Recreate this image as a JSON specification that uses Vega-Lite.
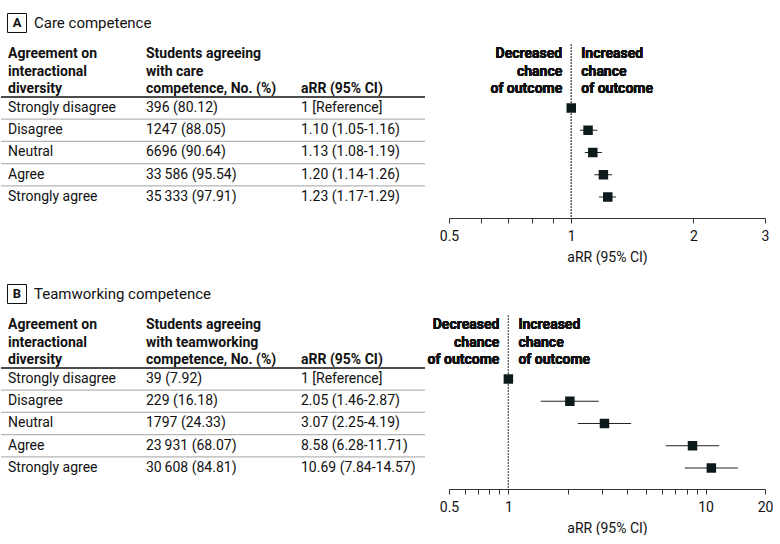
{
  "$schema": "https://vega.github.io/schema/vega-lite/v6.json",
  "padding": 0,
  "background": "white",
  "config": {
    "view": {"stroke": null},
    "font": "Roboto",
    "text": {"font": "Roboto", "fontSize": 14, "color": "#111"},
    "axis": {
      "labelFont": "Roboto", "titleFont": "Roboto",
      "labelFontSize": 14, "titleFontSize": 14, "titleFontWeight": "normal",
      "labelColor": "#111", "titleColor": "#111",
      "domainColor": "#333", "tickColor": "#333", "tickSize": 5,
      "grid": false, "labelPadding": 6, "titlePadding": 7, "labelFlush": false
    }
  },
  "datasets": {
    "rowsA": [
      {"row": 1, "level": "Strongly disagree", "n": "396 (80.12)", "arr": "1 [Reference]", "est": 1, "lo": null, "hi": null},
      {"row": 2, "level": "Disagree", "n": "1247 (88.05)", "arr": "1.10 (1.05-1.16)", "est": 1.10, "lo": 1.05, "hi": 1.16},
      {"row": 3, "level": "Neutral", "n": "6696 (90.64)", "arr": "1.13 (1.08-1.19)", "est": 1.13, "lo": 1.08, "hi": 1.19},
      {"row": 4, "level": "Agree", "n": "33\u2009586 (95.54)", "arr": "1.20 (1.14-1.26)", "est": 1.20, "lo": 1.14, "hi": 1.26},
      {"row": 5, "level": "Strongly agree", "n": "35\u2009333 (97.91)", "arr": "1.23 (1.17-1.29)", "est": 1.23, "lo": 1.17, "hi": 1.29}
    ],
    "rowsB": [
      {"row": 1, "level": "Strongly disagree", "n": "39 (7.92)", "arr": "1 [Reference]", "est": 1, "lo": null, "hi": null},
      {"row": 2, "level": "Disagree", "n": "229 (16.18)", "arr": "2.05 (1.46-2.87)", "est": 2.05, "lo": 1.46, "hi": 2.87},
      {"row": 3, "level": "Neutral", "n": "1797 (24.33)", "arr": "3.07 (2.25-4.19)", "est": 3.07, "lo": 2.25, "hi": 4.19},
      {"row": 4, "level": "Agree", "n": "23\u2009931 (68.07)", "arr": "8.58 (6.28-11.71)", "est": 8.58, "lo": 6.28, "hi": 11.71},
      {"row": 5, "level": "Strongly agree", "n": "30\u2009608 (84.81)", "arr": "10.69 (7.84-14.57)", "est": 10.69, "lo": 7.84, "hi": 14.57}
    ],
    "hdrA": [
      {"col": 1, "text": "Agreement on\ninteractional\ndiversity"},
      {"col": 4, "text": "Students agreeing\nwith care\ncompetence, No. (%)"}
    ],
    "hdrB": [
      {"col": 1, "text": "Agreement on\ninteractional\ndiversity"},
      {"col": 4, "text": "Students agreeing\nwith teamworking\ncompetence, No. (%)"}
    ],
    "hdr3": [
      {"col": 5, "text": "aRR (95% CI)"}
    ],
    "lines": [
      {"r": 0.506, "kind": "header"},
      {"r": 1.5, "kind": "sep"},
      {"r": 2.5, "kind": "sep"},
      {"r": 3.5, "kind": "sep"},
      {"r": 4.5, "kind": "sep"}
    ],
    "titleA": [{"letter": "A", "title": "Care competence"}],
    "titleB": [{"letter": "B", "title": "Teamworking competence"}]
  },
  "spacing": 7,
  "vconcat": [
    {
      "bounds": "flush",
      "spacing": 0,
      "hconcat": [
        {
          "width": 448, "height": 218,
          "layer": [
            {
              "data": {"name": "lines"},
              "transform": [{"filter": "datum.kind === 'sep'"}],
              "mark": {"type": "rule", "color": "#b5b5b5", "strokeWidth": 1.2},
              "encoding": {
                "x": {"datum": 0, "type": "quantitative", "scale": {"domain": [0, 1, 2, 3, 4, 5, 6], "range": [0, 7, 16, 33, 145, 300, 424]}, "axis": null},
                "x2": {"datum": 6},
                "y": {"field": "r", "type": "quantitative", "scale": {"domain": [-3.854, 5.944], "reverse": true, "nice": false, "zero": false}, "axis": null}
              }
            },
            {
              "data": {"name": "lines"},
              "transform": [{"filter": "datum.kind === 'header'"}],
              "mark": {"type": "rule", "color": "#111", "strokeWidth": 1.6},
              "encoding": {
                "x": {"datum": 0, "type": "quantitative"},
                "x2": {"datum": 6},
                "y": {"field": "r", "type": "quantitative"}
              }
            },
            {
              "data": {"name": "titleA"},
              "mark": {"type": "point", "shape": "square", "filled": false, "size": 361, "color": "#111", "strokeWidth": 1, "opacity": 1},
              "encoding": {
                "x": {"datum": 2, "type": "quantitative"},
                "y": {"datum": -2.82, "type": "quantitative"}
              }
            },
            {
              "data": {"name": "titleA"},
              "mark": {"type": "text", "align": "center", "baseline": "middle", "fontWeight": "bold", "fontSize": 13},
              "encoding": {
                "x": {"datum": 2, "type": "quantitative"},
                "y": {"datum": -2.82, "type": "quantitative"},
                "text": {"field": "letter"}
              }
            },
            {
              "data": {"name": "titleA"},
              "mark": {"type": "text", "align": "left", "baseline": "middle", "fontSize": 15},
              "encoding": {
                "x": {"datum": 3, "type": "quantitative"},
                "y": {"datum": -2.82, "type": "quantitative"},
                "text": {"field": "title"}
              }
            },
            {
              "data": {"name": "hdrA"},
              "mark": {"type": "text", "align": "left", "baseline": "middle", "fontWeight": "bold", "lineBreak": "\n", "lineHeight": 17.2},
              "encoding": {
                "x": {"field": "col", "type": "quantitative"},
                "y": {"datum": -1.41, "type": "quantitative"},
                "text": {"field": "text"}
              }
            },
            {
              "data": {"name": "hdr3"},
              "mark": {"type": "text", "align": "left", "baseline": "middle", "fontWeight": "bold"},
              "encoding": {
                "x": {"field": "col", "type": "quantitative"},
                "y": {"datum": 0.136, "type": "quantitative"},
                "text": {"field": "text"}
              }
            },
            {
              "data": {"name": "rowsA"},
              "mark": {"type": "text", "align": "left", "baseline": "middle"},
              "encoding": {"x": {"datum": 1, "type": "quantitative"}, "y": {"field": "row", "type": "quantitative"}, "text": {"field": "level"}}
            },
            {
              "data": {"name": "rowsA"},
              "mark": {"type": "text", "align": "left", "baseline": "middle"},
              "encoding": {"x": {"datum": 4, "type": "quantitative"}, "y": {"field": "row", "type": "quantitative"}, "text": {"field": "n"}}
            },
            {
              "data": {"name": "rowsA"},
              "mark": {"type": "text", "align": "left", "baseline": "middle"},
              "encoding": {"x": {"datum": 5, "type": "quantitative"}, "y": {"field": "row", "type": "quantitative"}, "text": {"field": "arr"}}
            }
          ]
        },
        {
          "width": 316, "height": 218,
          "data": {"name": "rowsA"},
          "layer": [
            {
              "mark": {"type": "rule", "color": "#555", "strokeDash": [1, 2], "strokeWidth": 1},
              "encoding": {
                "x": {"datum": 1, "type": "quantitative", "scale": {"type": "log", "domain": [0.5, 3], "nice": false},
                  "axis": {"title": "aRR (95% CI)", "values": [0.5, 0.6, 0.7, 0.8, 0.9, 1, 2, 3], "labelExpr": "indexof([0.5, 1, 2, 3], datum.value) >= 0 ? format(datum.value, '~g') : ''"}},
                "y": {"datum": -1.85, "type": "quantitative", "scale": {"domain": [-3.854, 5.944], "reverse": true, "nice": false, "zero": false}, "axis": null},
                "y2": {"datum": 5.944}
              }
            },
            {
              "mark": {"type": "text", "align": "right", "baseline": "middle", "fontWeight": "bold", "lineBreak": "\n", "lineHeight": 17.2, "dx": -9, "text": "Decreased\nchance\nof outcome"},
              "encoding": {"x": {"datum": 1, "type": "quantitative"}, "y": {"datum": -1.41, "type": "quantitative"}}
            },
            {
              "mark": {"type": "text", "align": "left", "baseline": "middle", "fontWeight": "bold", "lineBreak": "\n", "lineHeight": 17.2, "dx": 10, "text": "Increased\nchance\nof outcome"},
              "encoding": {"x": {"datum": 1, "type": "quantitative"}, "y": {"datum": -1.41, "type": "quantitative"}}
            },
            {
              "mark": {"type": "rule", "color": "#222", "strokeWidth": 1},
              "encoding": {"x": {"field": "lo", "type": "quantitative"}, "x2": {"field": "hi"}, "y": {"field": "row", "type": "quantitative"}}
            },
            {
              "mark": {"type": "point", "shape": "square", "filled": true, "size": 90, "color": "#0d1a1c", "opacity": 1},
              "encoding": {"x": {"field": "est", "type": "quantitative"}, "y": {"field": "row", "type": "quantitative"}}
            }
          ]
        }
      ]
    },
    {
      "bounds": "flush",
      "spacing": 0,
      "hconcat": [
        {
          "width": 448, "height": 218,
          "layer": [
            {
              "data": {"name": "lines"},
              "transform": [{"filter": "datum.kind === 'sep'"}],
              "mark": {"type": "rule", "color": "#b5b5b5", "strokeWidth": 1.2},
              "encoding": {
                "x": {"datum": 0, "type": "quantitative", "scale": {"domain": [0, 1, 2, 3, 4, 5, 6], "range": [0, 7, 16, 33, 145, 300, 424]}, "axis": null},
                "x2": {"datum": 6},
                "y": {"field": "r", "type": "quantitative", "scale": {"domain": [-3.854, 5.944], "reverse": true, "nice": false, "zero": false}, "axis": null}
              }
            },
            {
              "data": {"name": "lines"},
              "transform": [{"filter": "datum.kind === 'header'"}],
              "mark": {"type": "rule", "color": "#111", "strokeWidth": 1.6},
              "encoding": {
                "x": {"datum": 0, "type": "quantitative"},
                "x2": {"datum": 6},
                "y": {"field": "r", "type": "quantitative"}
              }
            },
            {
              "data": {"name": "titleB"},
              "mark": {"type": "point", "shape": "square", "filled": false, "size": 361, "color": "#111", "strokeWidth": 1, "opacity": 1},
              "encoding": {
                "x": {"datum": 2, "type": "quantitative"},
                "y": {"datum": -2.82, "type": "quantitative"}
              }
            },
            {
              "data": {"name": "titleB"},
              "mark": {"type": "text", "align": "center", "baseline": "middle", "fontWeight": "bold", "fontSize": 13},
              "encoding": {
                "x": {"datum": 2, "type": "quantitative"},
                "y": {"datum": -2.82, "type": "quantitative"},
                "text": {"field": "letter"}
              }
            },
            {
              "data": {"name": "titleB"},
              "mark": {"type": "text", "align": "left", "baseline": "middle", "fontSize": 15},
              "encoding": {
                "x": {"datum": 3, "type": "quantitative"},
                "y": {"datum": -2.82, "type": "quantitative"},
                "text": {"field": "title"}
              }
            },
            {
              "data": {"name": "hdrB"},
              "mark": {"type": "text", "align": "left", "baseline": "middle", "fontWeight": "bold", "lineBreak": "\n", "lineHeight": 17.2},
              "encoding": {
                "x": {"field": "col", "type": "quantitative"},
                "y": {"datum": -1.41, "type": "quantitative"},
                "text": {"field": "text"}
              }
            },
            {
              "data": {"name": "hdr3"},
              "mark": {"type": "text", "align": "left", "baseline": "middle", "fontWeight": "bold"},
              "encoding": {
                "x": {"field": "col", "type": "quantitative"},
                "y": {"datum": 0.136, "type": "quantitative"},
                "text": {"field": "text"}
              }
            },
            {
              "data": {"name": "rowsB"},
              "mark": {"type": "text", "align": "left", "baseline": "middle"},
              "encoding": {"x": {"datum": 1, "type": "quantitative"}, "y": {"field": "row", "type": "quantitative"}, "text": {"field": "level"}}
            },
            {
              "data": {"name": "rowsB"},
              "mark": {"type": "text", "align": "left", "baseline": "middle"},
              "encoding": {"x": {"datum": 4, "type": "quantitative"}, "y": {"field": "row", "type": "quantitative"}, "text": {"field": "n"}}
            },
            {
              "data": {"name": "rowsB"},
              "mark": {"type": "text", "align": "left", "baseline": "middle"},
              "encoding": {"x": {"datum": 5, "type": "quantitative"}, "y": {"field": "row", "type": "quantitative"}, "text": {"field": "arr"}}
            }
          ]
        },
        {
          "width": 316, "height": 218,
          "data": {"name": "rowsB"},
          "layer": [
            {
              "mark": {"type": "rule", "color": "#555", "strokeDash": [1, 2], "strokeWidth": 1},
              "encoding": {
                "x": {"datum": 1, "type": "quantitative", "scale": {"type": "log", "domain": [0.5, 20], "nice": false},
                  "axis": {"title": "aRR (95% CI)", "values": [0.5, 0.6, 0.7, 0.8, 0.9, 1, 2, 3, 4, 5, 6, 7, 8, 9, 10, 20], "labelExpr": "indexof([0.5, 1, 10, 20], datum.value) >= 0 ? format(datum.value, '~g') : ''"}},
                "y": {"datum": -1.85, "type": "quantitative", "scale": {"domain": [-3.854, 5.944], "reverse": true, "nice": false, "zero": false}, "axis": null},
                "y2": {"datum": 5.944}
              }
            },
            {
              "mark": {"type": "text", "align": "right", "baseline": "middle", "fontWeight": "bold", "lineBreak": "\n", "lineHeight": 17.2, "dx": -9, "text": "Decreased\nchance\nof outcome"},
              "encoding": {"x": {"datum": 1, "type": "quantitative"}, "y": {"datum": -1.41, "type": "quantitative"}}
            },
            {
              "mark": {"type": "text", "align": "left", "baseline": "middle", "fontWeight": "bold", "lineBreak": "\n", "lineHeight": 17.2, "dx": 10, "text": "Increased\nchance\nof outcome"},
              "encoding": {"x": {"datum": 1, "type": "quantitative"}, "y": {"datum": -1.41, "type": "quantitative"}}
            },
            {
              "mark": {"type": "rule", "color": "#222", "strokeWidth": 1},
              "encoding": {"x": {"field": "lo", "type": "quantitative"}, "x2": {"field": "hi"}, "y": {"field": "row", "type": "quantitative"}}
            },
            {
              "mark": {"type": "point", "shape": "square", "filled": true, "size": 90, "color": "#0d1a1c", "opacity": 1},
              "encoding": {"x": {"field": "est", "type": "quantitative"}, "y": {"field": "row", "type": "quantitative"}}
            }
          ]
        }
      ]
    }
  ]
}
